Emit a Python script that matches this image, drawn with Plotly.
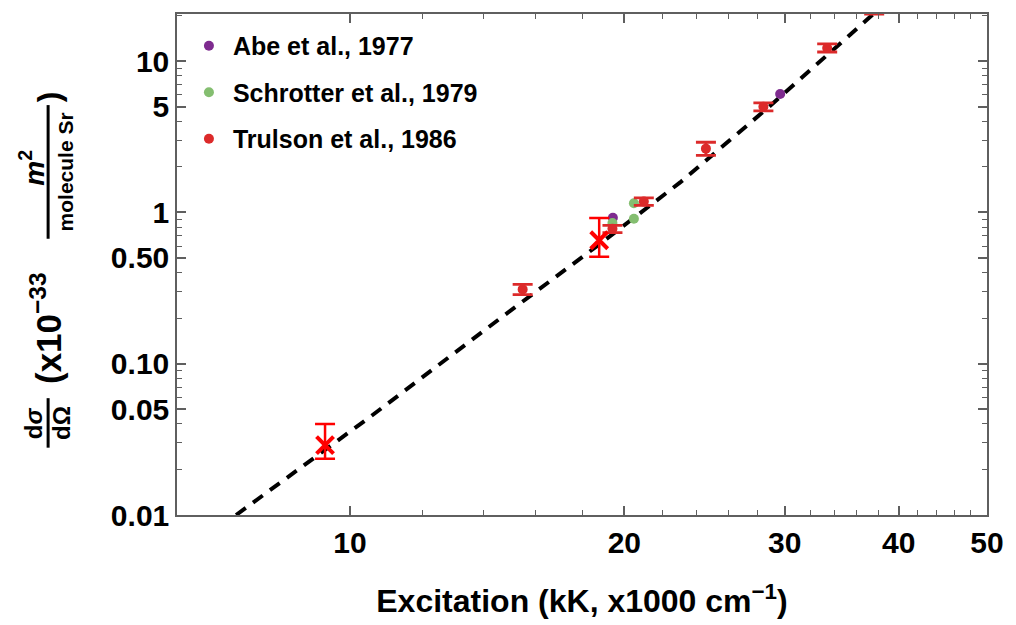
import math
import plotly.graph_objects as go

# ---------------- data ----------------
abe_x = [19.43, 29.65]
abe_y = [0.922, 6.07]

schrotter_x = [19.41, 20.49, 20.49]
schrotter_y = [0.851, 1.15, 0.908]

trulson_x = [15.47, 19.41, 21.01, 24.58, 28.42, 33.39, 37.6]
trulson_y = [0.310, 0.781, 1.179, 2.64, 4.99, 12.2, 21.8]
trulson_err_plus = [0.025, 0.040, 0.070, 0.27, 0.31, 0.80, 1.4]
trulson_err_minus = [0.024, 0.046, 0.065, 0.26, 0.30, 0.70, 1.3]

this_x = [9.39, 18.77]
this_y = [0.0290, 0.655]
this_err_plus = [0.0109, 0.263]
this_err_minus = [0.0055, 0.146]

fit_x = [7.50, 9.394, 10.52, 14.79, 17.18, 18.76, 23.03, 28.72, 37.52]
fit_y = [0.0100, 0.02685, 0.04449, 0.2104, 0.4083, 0.6134, 1.579, 4.894, 20.5]

y_tickvals = [0.01, 0.05, 0.1, 0.5, 1, 5, 10]
y_ticktext = ["0.01", "0.05", "0.10", "0.50", "1", "5", "10"]
y_minor = [0.02, 0.03, 0.04, 0.06, 0.07, 0.08, 0.09,
           0.2, 0.3, 0.4, 0.6, 0.7, 0.8, 0.9,
           2, 3, 4, 6, 7, 8, 9, 20]
x_tickvals = [10, 20, 30, 40, 50]
x_ticktext = ["10", "20", "30", "40", "50"]
x_minor = [12, 14, 16, 18, 22, 24, 26, 28, 32, 34, 36, 38, 42, 44, 46, 48]

x_range = [6.46, 50]
y_range = [0.01, 20.5]

# ---------------- styling ----------------
FONT = "Liberation Sans, Arial, sans-serif"
PURPLE = "#7E2B8F"
GREEN = "#84BE70"
RED = "#DC2A2A"
BRIGHT_RED = "#FF0000"
FRAME = "#5f5f5f"

fig = go.Figure()

fig.add_trace(go.Scatter(
    x=fit_x, y=fit_y, mode="lines",
    line=dict(color="black", width=4, dash="12px,9px"),
    showlegend=False, hoverinfo="skip"))

fig.add_trace(go.Scatter(
    x=abe_x, y=abe_y, mode="markers", name="Abe et al., 1977",
    legendgroup="a", marker=dict(color=PURPLE, size=10)))

fig.add_trace(go.Scatter(
    x=schrotter_x, y=schrotter_y, mode="markers", name="Schrotter et al., 1979",
    legendgroup="b", marker=dict(color=GREEN, size=10)))

fig.add_trace(go.Scatter(
    x=trulson_x, y=trulson_y, mode="markers", name="Trulson et al., 1986",
    legendgroup="c", marker=dict(color=RED, size=10),
    error_y=dict(type="data", symmetric=False, array=trulson_err_plus,
                 arrayminus=trulson_err_minus, color=RED, thickness=2.8, width=10)))

fig.add_trace(go.Scatter(
    x=this_x, y=this_y, mode="markers", showlegend=False,
    marker=dict(symbol="x-thin", size=17, color=BRIGHT_RED,
                line=dict(color=BRIGHT_RED, width=4)),
    error_y=dict(type="data", symmetric=False, array=this_err_plus,
                 arrayminus=this_err_minus, color=BRIGHT_RED, thickness=2.5, width=10)))

L, R, T, B = 177, 22, 13, 106
W, H = 1016, 625
pw, ph = W - L - R, H - T - B


def px2paper(px, py):
    return (px - L) / pw, (H - B - py) / ph


axis_common = dict(
    showline=True, linecolor=FRAME, linewidth=1.5, mirror="allticks",
    ticks="inside", ticklen=9, tickwidth=1.5, tickcolor=FRAME,
    showgrid=False, zeroline=False,
    tickfont=dict(family=FONT, size=30, color="black", weight="bold"),
)

fig.update_xaxes(
    type="log", range=[math.log10(v) for v in x_range],
    tickvals=x_tickvals, ticktext=x_ticktext,
    minor=dict(tickvals=x_minor, ticks="inside", ticklen=5, tickwidth=1.2,
               tickcolor=FRAME, showgrid=False),
    title=dict(text="Excitation (kK, x1000 cm<sup>−1</sup>)",
               font=dict(family=FONT, size=32, color="black", weight="bold"),
               standoff=32),
    ticklabelstandoff=0,
    **axis_common)

fig.update_yaxes(
    type="log", range=[math.log10(v) for v in y_range],
    tickvals=y_tickvals, ticktext=y_ticktext,
    minor=dict(tickvals=y_minor, ticks="inside", ticklen=5, tickwidth=1.2,
               tickcolor=FRAME, showgrid=False),
    ticklabelstandoff=0,
    **axis_common)

# y-axis title built from rotated text pieces
annots = []


def add_text(text, px, py, size):
    x, y = px2paper(px, py)
    annots.append(dict(text=text, x=x, y=y, xref="paper", yref="paper",
                       xanchor="center", yanchor="middle", showarrow=False,
                       textangle=-90,
                       font=dict(family=FONT, size=size, color="black", weight="bold")))


add_text("d<i>σ</i>", 33, 426, 24)
add_text("dΩ", 61, 426, 24)
add_text("(x10<sup>−33</sup>", 45, 330, 35)
add_text("<i>m</i><sup>2</sup>", 31, 168, 28)
add_text("molecule Sr", 64, 172, 21)
add_text(")", 48, 97, 32)

shapes = []
for (x0, y0, y1) in [(47, 401, 451), (47, 105, 240)]:
    a0, b0 = px2paper(x0, y0)
    a1, b1 = px2paper(x0, y1)
    shapes.append(dict(type="line", xref="paper", yref="paper",
                       x0=a0, x1=a1, y0=b0, y1=b1,
                       line=dict(color="black", width=3)))

lx, ly = px2paper(185, 22)

fig.update_layout(
    width=W, height=H,
    margin=dict(l=L, r=R, t=T, b=B),
    paper_bgcolor="white", plot_bgcolor="white",
    annotations=annots, shapes=shapes,
    legend=dict(x=lx, y=ly, xanchor="left", yanchor="top",
                bgcolor="rgba(0,0,0,0)", tracegroupgap=11,
                font=dict(family=FONT, size=25, color="black", weight="bold"),
                itemwidth=38),
    showlegend=True,
)

fig.write_html("out.html")
